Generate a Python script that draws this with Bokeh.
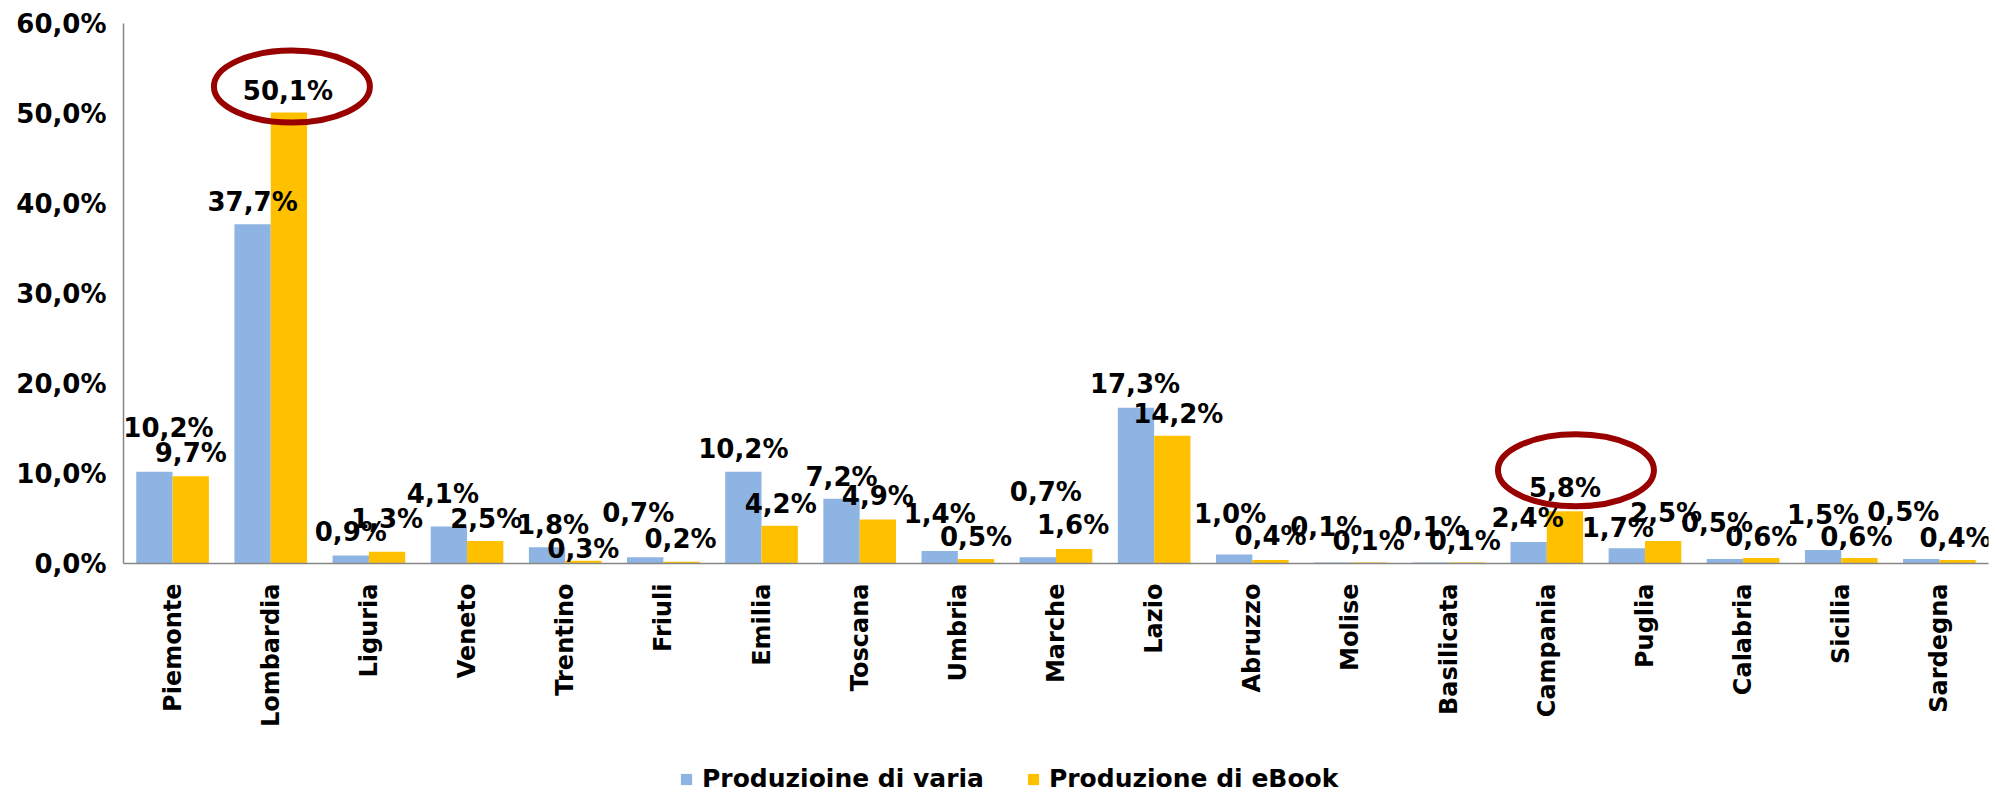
import math
from bokeh.plotting import figure
from bokeh.layouts import column
from bokeh.models import ColumnDataSource, FactorRange, Range1d, FixedTicker, Legend, LegendItem
from bokeh.transform import dodge
from bokeh.core.properties import value
from bokeh.embed import file_html
from bokeh.resources import INLINE

# ---------------- data ----------------
regions = ["Piemonte", "Lombardia", "Liguria", "Veneto", "Trentino", "Friuli", "Emilia",
           "Toscana", "Umbria", "Marche", "Lazio", "Abruzzo", "Molise", "Basilicata",
           "Campania", "Puglia", "Calabria", "Sicilia", "Sardegna"]
varia = [10.2, 37.7, 0.9, 4.1, 1.8, 0.7, 10.2, 7.2, 1.4, 0.7, 17.3, 1.0, 0.1, 0.1, 2.4, 1.7, 0.5, 1.5, 0.5]
ebook = [9.7, 50.1, 1.3, 2.5, 0.3, 0.2, 4.2, 4.9, 0.5, 1.6, 14.2, 0.4, 0.1, 0.1, 5.8, 2.5, 0.6, 0.6, 0.4]
series_names = ["Produzioine di varia", "Produzione di eBook"]
y_ticks = [0, 10, 20, 30, 40, 50, 60]
y_tick_labels = ["0,0%", "10,0%", "20,0%", "30,0%", "40,0%", "50,0%", "60,0%"]
highlight = ["Lombardia", "Campania"]

# ---------------- style (label nudges in screen px) ----------------
varia_dx = [14, 0, 0, -6, 6, -7, 0, 0, 0, 8, -1, -4, -6, 0, -1, -9, -8, 0, -18]
varia_dy = [44, 22, 23, 33, 22, 44, 23, 22, 37, 65, 24, 41, 36, 36, 24, 20, 36, 35, 47]
ebook_dx = [0, -1, 0, 1, 0, -1, 1, 0, 0, -1, 6, 0, 0, -2, 0, 3, 0, -3, -2]
ebook_dy = [23, 22, 33, 22, 12, 23, 22, 23, 22, 24, 22, 24, 22, 22, 23, 28, 21, 21, 22]
ring_dx = [3, 11]
ring_dy = [26, 41]

BLUE = "#8EB4E3"
YELLOW = "#FFC000"
RING = "#990000"
FONT = "DejaVu Sans"
FRAME_W = 1865
FRAME_H = 540
Y_MAX = 60
px_per_y = FRAME_H / Y_MAX
px_per_cat = FRAME_W / len(regions)


def fmt(v):
    return f"{v:.1f}%".replace(".", ",")


src = ColumnDataSource(dict(
    region=regions, varia=varia, ebook=ebook,
    varia_lbl=[fmt(v) for v in varia], ebook_lbl=[fmt(v) for v in ebook],
    vdx=varia_dx, vdy=[-d for d in varia_dy],
    edx=ebook_dx, edy=[-d for d in ebook_dy],
))

p = figure(frame_width=FRAME_W, frame_height=FRAME_H,
           x_range=FactorRange(*regions), y_range=Range1d(0, Y_MAX),
           output_backend="svg", toolbar_location=None,
           min_border_left=123, min_border_right=7, min_border_top=23, min_border_bottom=0)
p.outline_line_color = None
p.xgrid.visible = False
p.ygrid.visible = False

off = 0.185
w = 0.37
r1 = p.vbar(x=dodge("region", -off, range=p.x_range), top="varia", width=w, source=src,
            fill_color=BLUE, line_color=None)
r2 = p.vbar(x=dodge("region", off, range=p.x_range), top="ebook", width=w, source=src,
            fill_color=YELLOW, line_color=None)

common = dict(text_font=value(FONT), text_font_style="bold", text_font_size="26px",
              text_align="center", text_baseline="middle", text_color="black", source=src)
p.text(x=dodge("region", -off, range=p.x_range), y="varia", text="varia_lbl",
       x_offset="vdx", y_offset="vdy", **common)
p.text(x=dodge("region", off, range=p.x_range), y="ebook", text="ebook_lbl",
       x_offset="edx", y_offset="edy", **common)

# highlight rings around the eBook labels of the highlighted regions
for i, h in enumerate(highlight):
    s = ColumnDataSource(dict(region=[h], y=[ebook[regions.index(h)] + ring_dy[i] / px_per_y]))
    p.ellipse(x=dodge("region", off + ring_dx[i] / px_per_cat, range=p.x_range), y="y",
              width=156, height=72, width_units="screen", height_units="screen", source=s,
              fill_color=None, line_color=RING, line_width=6)

# axes
for ax in (p.xaxis[0], p.yaxis[0]):
    ax.axis_line_color = "#868686"
    ax.axis_line_width = 1.5
    ax.major_tick_line_color = None
    ax.minor_tick_line_color = None
    ax.major_tick_out = 0
    ax.major_label_text_font = FONT
    ax.major_label_text_font_style = "bold"
    ax.major_label_text_color = "black"

p.xaxis.major_label_orientation = math.pi / 2
p.xaxis.major_label_text_font_size = "24px"
p.xaxis.major_label_standoff = 20
p.yaxis.ticker = FixedTicker(ticks=y_ticks)
p.yaxis.major_label_overrides = {t: l for t, l in zip(y_ticks, y_tick_labels)}
p.yaxis.major_label_text_font_size = "26px"
p.yaxis.major_label_standoff = 17

# ---------------- legend strip (frame aligned with the chart's frame) ----------------
lg = figure(width=1995, height=66, x_range=Range1d(0, 1), y_range=Range1d(0, 1),
            output_backend="svg", toolbar_location=None,
            x_axis_location=None, y_axis_location=None, min_border=0)
lg.outline_line_color = None
lg.xgrid.visible = False
lg.ygrid.visible = False
# zero-height keys: invisible in the strip, used only for the legend swatches
key_src = ColumnDataSource(dict(x=[0.5], top=[0.0]))
k1 = lg.vbar(x="x", top="top", width=0.01, source=key_src, fill_color=BLUE, line_color=None)
k2 = lg.vbar(x="x", top="top", width=0.01, source=key_src, fill_color=YELLOW, line_color=None)
legend = Legend(items=[LegendItem(label=series_names[0], renderers=[k1]),
                       LegendItem(label=series_names[1], renderers=[k2])],
                location=(556, 3), orientation="horizontal",
                glyph_width=14, glyph_height=14, label_standoff=9, spacing=42,
                padding=0, margin=0, border_line_color=None, background_fill_alpha=0,
                label_text_font=FONT, label_text_font_style="bold", label_text_font_size="25px",
                label_text_color="black")
lg.add_layout(legend)

layout = column(p, lg, spacing=0)
open("out.html", "w").write(file_html(layout, INLINE))
